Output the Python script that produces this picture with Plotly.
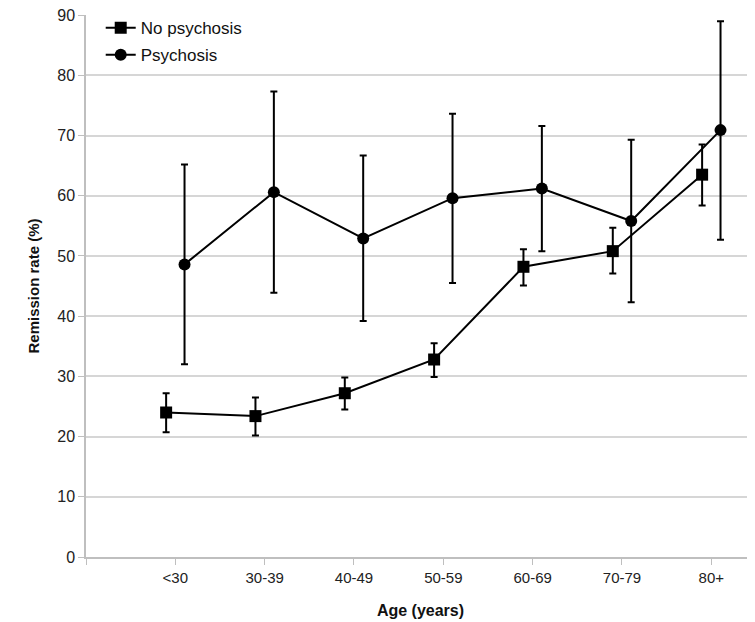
import plotly.graph_objects as go

categories = ["<30", "30-39", "40-49", "50-59", "60-69", "70-79", "80+"]

nopsy_mean = [24.0, 23.4, 27.2, 32.8, 48.2, 50.8, 63.5]
nopsy_upper = [27.2, 26.5, 29.8, 35.5, 51.1, 54.7, 68.5]
nopsy_lower = [20.7, 20.2, 24.5, 29.9, 45.1, 47.1, 58.4]

psy_mean = [48.6, 60.6, 52.9, 59.6, 61.2, 55.8, 70.9]
psy_upper = [65.2, 77.3, 66.7, 73.6, 71.6, 69.3, 89.0]
psy_lower = [32.0, 43.9, 39.2, 45.5, 50.8, 42.3, 52.7]

y_ticks = [0, 10, 20, 30, 40, 50, 60, 70, 80, 90]

FONT = "Liberation Sans, Arial, sans-serif"
offset = 0.103
idx = list(range(len(categories)))

fig = go.Figure()

fig.add_trace(go.Scatter(
    x=[i - offset for i in idx], y=nopsy_mean, name="No psychosis",
    mode="lines+markers", legendgroup="a",
    line=dict(color="black", width=2),
    marker=dict(symbol="square", size=12, color="black"),
    error_y=dict(type="data", symmetric=False,
                 array=[u - m for u, m in zip(nopsy_upper, nopsy_mean)],
                 arrayminus=[m - l for m, l in zip(nopsy_mean, nopsy_lower)],
                 color="black", thickness=2, width=3.5),
))
fig.add_trace(go.Scatter(
    x=[i + offset for i in idx], y=psy_mean, name="Psychosis",
    mode="lines+markers", legendgroup="b",
    line=dict(color="black", width=2),
    marker=dict(symbol="circle", size=12, color="black"),
    error_y=dict(type="data", symmetric=False,
                 array=[u - m for u, m in zip(psy_upper, psy_mean)],
                 arrayminus=[m - l for m, l in zip(psy_mean, psy_lower)],
                 color="black", thickness=2, width=3.5),
))

# page body adds an 8px margin; figure is sized to fit inside the 755x622 window
fig.update_layout(
    width=747, height=614,
    margin=dict(l=78, r=0, t=7, b=65, autoexpand=False),
    paper_bgcolor="white", plot_bgcolor="white",
    font=dict(family=FONT, size=16, color="#222222"),
    showlegend=True,
    legend=dict(x=0.022, y=1.009, xanchor="left", yanchor="top",
                bgcolor="rgba(0,0,0,0)", font=dict(size=17, color="#111111"),
                tracegroupgap=2, traceorder="grouped"),
    xaxis=dict(
        range=[-1, 6.489], automargin=False,
        tickvals=[-1] + idx, ticktext=[""] + categories,
        ticks="outside", ticklen=6, tickcolor="#bfbfbf", tickwidth=1,
        showline=True, linecolor="#bfbfbf", linewidth=1.5,
        showgrid=False, zeroline=False,
        tickfont=dict(size=15, color="#222222"),
        title=dict(text="<b>Age (years)</b>", font=dict(size=16, color="#111111"), standoff=20),
    ),
    yaxis=dict(
        range=[0, 90.02], tickvals=y_ticks, automargin=False,
        ticklabeloverflow="allow",
        ticks="outside", ticklen=6, tickcolor="#bfbfbf", tickwidth=1,
        showline=True, linecolor="#bfbfbf", linewidth=1.5,
        showgrid=True, gridcolor="#d6d6d6", gridwidth=1.5,
        zeroline=False,
        tickfont=dict(size=16, color="#222222"),
        title=dict(text="<b>Remission rate (%)</b>", font=dict(size=15, color="#111111"), standoff=14),
    ),
)

fig.write_html("out.html")
